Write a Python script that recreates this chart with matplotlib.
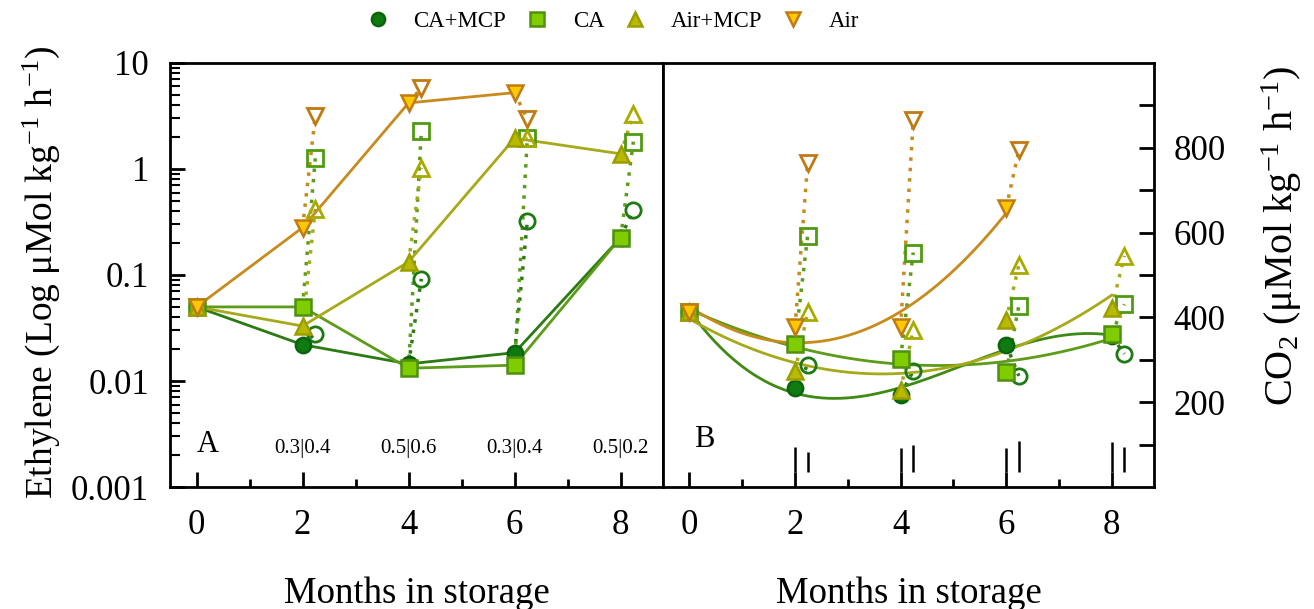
import numpy as np
import matplotlib
matplotlib.use("Agg")
import matplotlib.pyplot as plt
from matplotlib.ticker import FixedLocator, NullFormatter, LogLocator

plt.rcParams['font.family'] = ['Liberation Serif', 'DejaVu Serif']
plt.rcParams['mathtext.default'] = 'regular'

# months for closed (at removal) and open (after shelf life) points
months = [0, 2, 4, 6, 8]
months_open = [2, 4, 6, 8]
offset = 0.24

names = ['CA+MCP', 'CA', 'Air+MCP', 'Air']

# panel A: ethylene
eth_closed = {
    'CA+MCP': [0.050, 0.022, 0.0145, 0.0185, 0.225],
    'CA': [0.050, 0.050, 0.0132, 0.0141, 0.225],
    'Air+MCP': [0.050, 0.033, 0.133, 1.95, 1.39],
    'Air': [0.050, 0.28, 4.2, 5.25, np.nan],
}
eth_open = {
    'CA+MCP': [0.028, 0.092, 0.32, 0.41],
    'CA': [1.26, 2.28, 1.95, 1.81],
    'Air+MCP': [0.42, 1.02, 1.95, 3.28],
    'Air': [3.16, 5.8, 2.94, np.nan],
}
eth_lsd = ['0.3|0.4', '0.5|0.6', '0.3|0.4', '0.5|0.2']

# panel B: CO2
co2_closed = {
    'CA+MCP': [413, 233, 217, 336, 355],
    'CA': [413, 338, 303, 271, 361],
    'Air+MCP': [413, 273, 229, 393, 423],
    'Air': [413, 377, 377, 658, np.nan],
}
co2_open = {
    'CA+MCP': [288, 274, 262, 314],
    'CA': [593, 553, 427, 431],
    'Air+MCP': [412, 371, 523, 545],
    'Air': [764, 865, 794, np.nan],
}
fit_degree = {'CA+MCP': 3, 'CA': 2, 'Air+MCP': 2, 'Air': 2}
lsd_closed = [59, 55, 55, 69]
lsd_open = [47, 64, 73, 59]
lsd_base = 36

markers = {'CA+MCP': 'o', 'CA': 's', 'Air+MCP': '^', 'Air': 'v'}
face = {'CA+MCP': '#0f7a0f', 'CA': '#7fcc00', 'Air+MCP': '#b8ba00', 'Air': '#ffc800'}
edge = {'CA+MCP': '#0b640b', 'CA': '#4f900f', 'Air+MCP': '#9c9e00', 'Air': '#c07c10'}
linec = {'CA+MCP': '#2b7a12', 'CA': '#5c9c19', 'Air+MCP': '#a6aa1a', 'Air': '#c98a1c'}
openc = {'CA+MCP': '#1e7a14', 'CA': '#4f9a10', 'Air+MCP': '#a8aa00', 'Air': '#c07a10'}

fig = plt.figure(figsize=(13.14, 6.09), dpi=100)
axA = fig.add_axes([0.1294, 0.2003, 0.3752, 0.6963])
axB = fig.add_axes([0.5046, 0.2003, 0.3736, 0.6963])

ms = 11


def draw(ax, closed, opened):
    for n in names:
        c = np.array(closed[n], dtype=float)
        o = np.array(opened[n], dtype=float)
        for i, m in enumerate(months_open):
            if not np.isnan(o[i]):
                ax.plot([m, m + offset], [c[i + 1], o[i]], ls=(0, (1, 2)),
                        color=linec[n], lw=2.5, zorder=2)
        ax.plot(np.array(months_open) + offset, o, ls='none', marker=markers[n],
                ms=ms, mfc='none', mec=openc[n], mew=2, zorder=4)
    for n in names:
        c = np.array(closed[n], dtype=float)
        ax.plot(months, c, ls='none', marker=markers[n], ms=ms, mfc=face[n],
                mec=edge[n], mew=1.8, zorder=5)


# panel A
for n in names:
    c = np.array(eth_closed[n], dtype=float)
    axA.plot(months, c, color=linec[n], lw=2, zorder=3)
draw(axA, eth_closed, eth_open)
axA.set_yscale('log')
axA.set_ylim(0.001, 10)
axA.set_xlim(-0.5, 8.8)
axA.yaxis.set_major_locator(FixedLocator([0.001, 0.01, 0.1, 1, 10]))
axA.set_yticklabels(['0.001', '0.01', '0.1', '1', '10'])
axA.yaxis.set_minor_locator(LogLocator(base=10, subs=np.arange(2, 10)))
axA.yaxis.set_minor_formatter(NullFormatter())
for i, m in enumerate(months_open):
    axA.text(m, 0.00233, eth_lsd[i], ha='center', va='center', fontsize=15)
axA.text(0.0, 0.0025, 'A', fontsize=22, ha='left', va='center')
axA.text(-0.239, 0.507, 'Ethylene (Log μMol kg$^{-1}$ h$^{-1}$)', transform=axA.transAxes,
         rotation=90, rotation_mode='anchor', ha='center', va='baseline', fontsize=27)

# panel B
for n in names:
    c = np.array(co2_closed[n], dtype=float)
    ok = ~np.isnan(c)
    x = np.array(months, dtype=float)[ok]
    coef = np.polyfit(x, c[ok], fit_degree[n])
    xs = np.linspace(x.min(), x.max(), 200)
    col = '#3f8a14' if n == 'CA+MCP' else linec[n]
    axB.plot(xs, np.polyval(coef, xs), color=col, lw=2, zorder=3)
draw(axB, co2_closed, co2_open)
for i, m in enumerate(months_open):
    axB.vlines(m, lsd_base, lsd_base + lsd_closed[i], color='black', lw=1.8)
    axB.vlines(m + offset, lsd_base, lsd_base + lsd_open[i], color='black', lw=1.8)
axB.set_ylim(0, 1000)
axB.set_xlim(-0.5, 8.8)
axB.yaxis.tick_right()
axB.yaxis.set_major_locator(FixedLocator(np.arange(100, 1000, 100)))
axB.set_yticklabels(['' if v % 200 else str(v) for v in range(100, 1000, 100)])
axB.text(0.08, 111, 'B', fontsize=22, ha='left', va='center')
axB.text(1.283, 0.592, 'CO$_2$ (μMol kg$^{-1}$ h$^{-1}$)', transform=axB.transAxes,
         rotation=90, rotation_mode='anchor', ha='center', va='baseline', fontsize=29)

for ax in (axA, axB):
    ax.set_xticks(months)
    ax.set_xticks([1, 3, 5, 7], minor=True)
    ax.tick_params(axis='x', which='major', direction='in', length=11, width=2,
                   labelsize=25, pad=16, top=False)
    ax.tick_params(axis='x', which='minor', direction='in', length=6, width=2, top=False)
    for s in ax.spines.values():
        s.set_linewidth(2)
    ax.text(0.5, -0.274, 'Months in storage', transform=ax.transAxes,
            ha='center', va='baseline', fontsize=26.5)

axA.tick_params(axis='y', which='major', direction='in', length=11, width=2,
                labelsize=25, pad=15, right=False)
axA.tick_params(axis='y', which='minor', direction='in', length=7, width=1.5, right=False)
axB.tick_params(axis='y', which='both', direction='in', length=11, width=2,
                labelsize=25, pad=14, left=False, right=True)

handles = [plt.Line2D([], [], ls='none', marker=markers[n], ms=9.5, mfc=face[n],
                      mec=edge[n], mew=1.8) for n in names]
fig.legend(handles, names, loc='center left', bbox_to_anchor=(0.272, 0.965), ncol=4,
           frameon=False, fontsize=16.5, handlelength=1, handletextpad=1.05,
           columnspacing=0.85, borderaxespad=0)

fig.savefig('out.png', dpi=100)
